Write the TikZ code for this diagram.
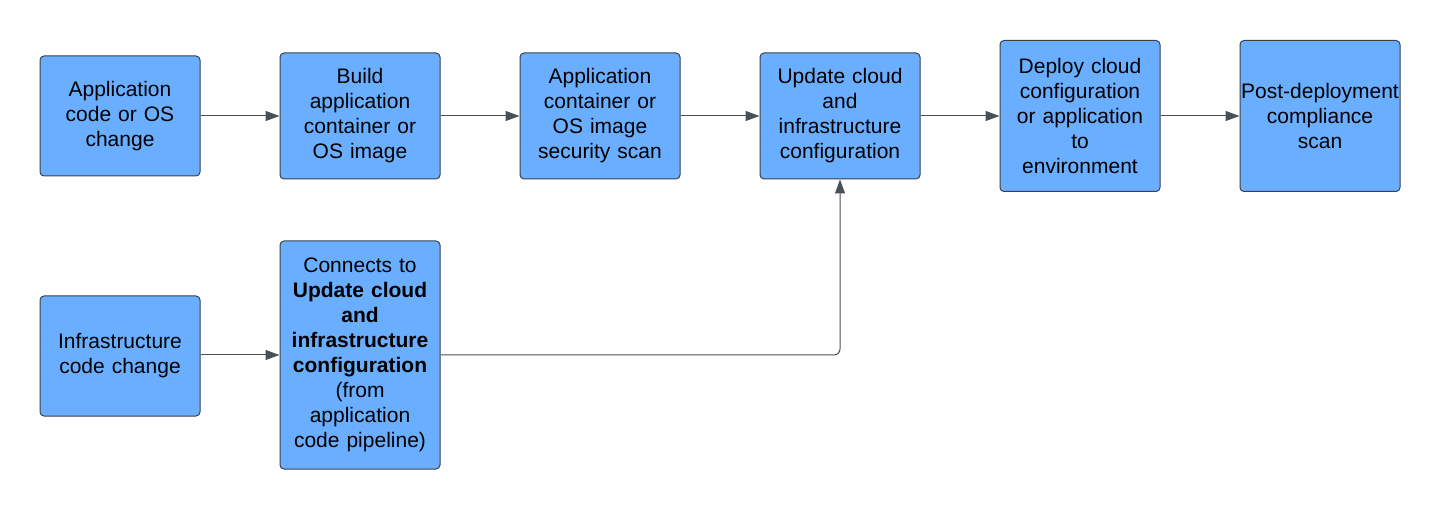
\documentclass[tikz,border=0pt]{standalone}
\usepackage{fontspec}
\setmainfont{Liberation Sans}
\usepackage{tikz}
\usetikzlibrary{arrows.meta,positioning}

\definecolor{boxblue}{HTML}{6AAEFF}
\definecolor{boxline}{HTML}{3A414A}
\definecolor{arrline}{HTML}{4A5058}

\tikzset{
    stepbox/.style={rectangle, rounded corners=4pt, draw=boxline, line width=1pt, fill=boxblue,
        text width=158pt, inner sep=1pt, align=center, font=\fontsize{21}{25}\selectfont},
    flow/.style={draw=arrline, line width=1pt, -{Triangle[length=14pt,width=10pt]}}
}

\begin{document}
\begin{tikzpicture}[x=1pt,y=-1pt]
        \useasboundingbox (0,0) rectangle (1440,510);
        % application pipeline
        \node[stepbox, minimum height=120pt] (appchange) at (120,116) {Application\\code or OS\\change};
        \node[stepbox, minimum height=126pt] (build) at (360,116) {Build\\application\\container or\\OS image};
        \node[stepbox, minimum height=126pt] (scan) at (600,116) {Application\\container or\\OS image\\security scan};
        \node[stepbox, minimum height=126pt] (update) at (840,116) {Update cloud\\and\\infrastructure\\configuration};
        \node[stepbox, minimum height=151pt] (deploy) at (1080,116) {Deploy cloud\\configuration\\or application\\to\\environment};
        \node[stepbox, minimum height=151pt] (post) at (1320,116) {Post-deployment\\compliance\\scan};
        % infrastructure pipeline
        \node[stepbox, minimum height=120pt] (infchange) at (120,356) {Infrastructure\\code change};
        \node[stepbox, minimum height=228pt] (connect) at (360,355) {Connects to\\\textbf{Update cloud}\\\textbf{and}\\\textbf{infrastructure}\\\textbf{configuration}\\(from\\application\\code pipeline)};

        \draw[flow] (appchange) -- (build);
        \draw[flow] (build) -- (scan);
        \draw[flow] (scan) -- (update);
        \draw[flow] (update) -- (deploy);
        \draw[flow] (deploy) -- (post);
        \draw[flow] (infchange.east |- connect) -- (connect);
        \draw[flow, rounded corners=6pt] (connect.east) -| (update.south);
\end{tikzpicture}
\end{document}
